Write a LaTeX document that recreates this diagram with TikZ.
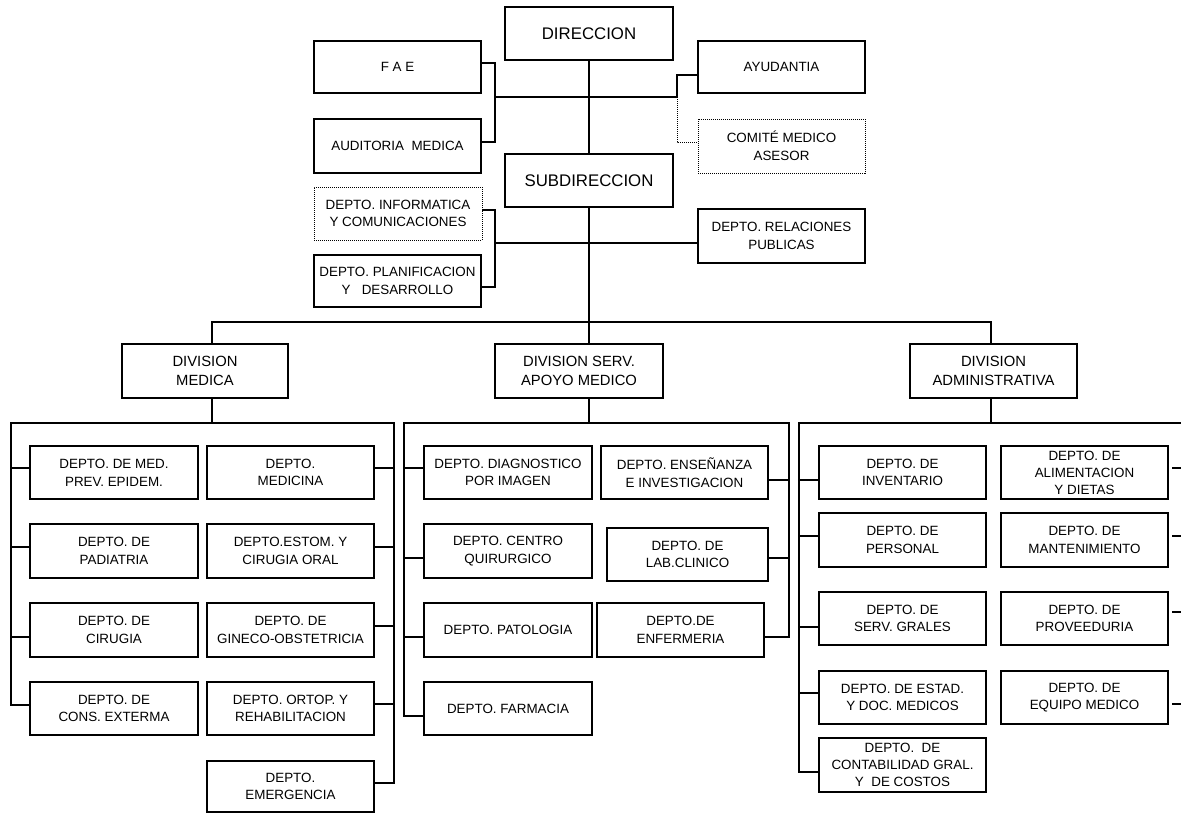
\documentclass[tikz,border=0pt]{standalone}
\usepackage{fontspec}
\setmainfont{Liberation Sans}

% \orgbox[style]{name}{x1}{y1}{x2}{y2}{text}: a box given by its corners
\newcommand{\orgbox}[7][]{%
  \pgfmathsetmacro{\orgW}{#5-#3}\pgfmathsetmacro{\orgH}{#6-#4}%
  \pgfmathsetmacro{\orgX}{(#3+#5)/2}\pgfmathsetmacro{\orgY}{(#4+#6)/2}%
  \node[box,#1,minimum width=\orgW pt,minimum height=\orgH pt] (#2) at (\orgX,\orgY) {#7};}
% stubs from a box side to a bracket line at a given height
\newcommand{\lstub}[3]{\draw[link] (#1.west |- 0,#3) -- (#2 |- 0,#3);}
\newcommand{\rstub}[3]{\draw[link] (#1.east |- 0,#3) -- (#2 |- 0,#3);}

\begin{document}
\begin{tikzpicture}[x=1pt,y=-1pt,
  box/.style={draw,line width=1.2pt,inner sep=1pt,align=center,
    font=\fontsize{13.4}{17.7}\selectfont},
  dotbox/.style={line width=0.8pt,dash pattern=on 1pt off 1pt},
  big/.style={font=\fontsize{16.8}{20}\selectfont},
  divn/.style={font=\fontsize{14.8}{19}\selectfont},
  tight/.style={font=\fontsize{13.4}{17}\selectfont},
  link/.style={line width=1.2pt},
  dotlink/.style={line width=0.8pt,dash pattern=on 1pt off 1pt}]

\useasboundingbox (0,0) rectangle (1181,814);

% ---- top management ----
\orgbox[big]{dir}{505}{7}{673}{60}{DIRECCION}
\orgbox{fae}{314}{41}{481}{93}{F A E}
\orgbox{aud}{314}{119}{481}{173}{AUDITORIA\ \ MEDICA}
\orgbox{ayu}{698}{41}{865}{93}{AYUDANTIA}
\orgbox[dotbox]{com}{698}{119}{865}{173}{COMITÉ MEDICO\\ASESOR}
\orgbox[big]{sub}{505}{154}{673}{207}{SUBDIRECCION}
\orgbox[dotbox]{inf}{314}{187}{482}{240}{DEPTO. INFORMATICA\\Y COMUNICACIONES}
\orgbox{pla}{314}{255}{481}{307}{DEPTO. PLANIFICACION\\Y\ \ \ DESARROLLO}
\orgbox{rel}{698}{209}{865}{263}{DEPTO. RELACIONES\\PUBLICAS}

\coordinate (jl) at (495,97);
\coordinate (jr) at (677,97);
\coordinate (kl) at (495,243);

\draw[link] (dir.south) -- (sub.north);
\draw[link] ([yshift=4pt]fae.east) -| (jl);
\draw[link] ([yshift=4pt]aud.east) -| (jl);
\draw[link] (jl) -- (jr);
\draw[link] (jr) |- ([yshift=-8pt]ayu.west);
\draw[dotlink] (jr) |- ([yshift=4pt]com.west);

\draw[link] ([yshift=3.5pt]inf.east) -| (kl);
\draw[link] ([yshift=-6pt]pla.east) -| (kl);
\draw[link] (kl) -- ([yshift=-7pt]rel.west);

% ---- divisions ----
\orgbox[divn]{dm}{122}{344}{288}{398}{DIVISION\\MEDICA}
\orgbox[divn]{ds}{495}{344}{663}{398}{DIVISION SERV.\\APOYO MEDICO}
\orgbox[divn]{da}{910}{344}{1077}{398}{DIVISION\\ADMINISTRATIVA}

\coordinate (bus) at (589,322);
\draw[link] (sub.south) -- (sub.south |- ds.north);
\draw[link] ([xshift=7pt]dm.north) |- (bus) -| ([xshift=-2.5pt]da.north);

% ---- medical division ----
\orgbox{m1}{30}{446}{198}{499}{DEPTO. DE MED.\\PREV. EPIDEM.}
\orgbox{m2}{207}{446}{374}{499}{DEPTO.\\MEDICINA}
\orgbox{m3}{30}{524}{198}{578}{DEPTO. DE\\PADIATRIA}
\orgbox{m4}{207}{524}{374}{578}{DEPTO.ESTOM. Y\\CIRUGIA ORAL}
\orgbox{m5}{30}{603}{198}{657}{DEPTO. DE\\CIRUGIA}
\orgbox{m6}{207}{603}{374}{657}{DEPTO. DE\\GINECO-OBSTETRICIA}
\orgbox{m7}{30}{682}{198}{735}{DEPTO. DE\\CONS. EXTERMA}
\orgbox{m8}{207}{682}{374}{735}{DEPTO. ORTOP. Y\\REHABILITACION}
\orgbox{m9}{207}{761}{374}{812}{DEPTO.\\EMERGENCIA}

\coordinate (mL) at (11,423);
\coordinate (mR) at (394,423);
\draw[link] ([xshift=7pt]dm.south) -- ([xshift=7pt]dm.south |- mL);
\draw[link] (m7.west |- 0,705) -| (mL) -- (mR) |- (m9.east |- 0,783);
\lstub{m1}{mL}{468}
\lstub{m3}{mL}{547}
\lstub{m5}{mL}{637}
\rstub{m2}{mR}{468}
\rstub{m4}{mR}{547}
\rstub{m6}{mR}{626}
\rstub{m8}{mR}{704}

% ---- medical support division ----
\orgbox{s1}{424}{446}{592}{499}{DEPTO. DIAGNOSTICO\\POR IMAGEN}
\orgbox{s2}{601}{446}{768}{499}{DEPTO. ENSEÑANZA\\E INVESTIGACION}
\orgbox{s3}{424}{524}{592}{578}{DEPTO. CENTRO\\QUIRURGICO}
\orgbox{s4}{607}{528}{768}{581}{DEPTO. DE\\LAB.CLINICO}
\orgbox{s5}{424}{603}{592}{657}{DEPTO. PATOLOGIA}
\orgbox{s6}{597}{603}{764}{657}{DEPTO.DE\\ENFERMERIA}
\orgbox{s7}{424}{682}{592}{735}{DEPTO. FARMACIA}

\coordinate (sL) at (404,423);
\coordinate (sR) at (789,423);
\draw[link] (sub.south |- ds.south) -- (sub.south |- sL);
\draw[link] (s7.west |- 0,716) -| (sL) -- (sR) |- (s6.east |- 0,637);
\lstub{s1}{sL}{468}
\lstub{s3}{sL}{558}
\lstub{s5}{sL}{637}
\rstub{s2}{sR}{480}
\rstub{s4}{sR}{558}

% ---- administrative division ----
\orgbox{a1}{819}{446}{986}{499}{DEPTO. DE\\INVENTARIO}
\orgbox[tight]{a2}{1001}{446}{1168}{499}{DEPTO. DE\\ALIMENTACION\\Y DIETAS}
\orgbox{a3}{819}{513}{986}{567}{DEPTO. DE\\PERSONAL}
\orgbox{a4}{1001}{513}{1168}{567}{DEPTO. DE\\MANTENIMIENTO}
\orgbox{a5}{819}{592}{986}{645}{DEPTO. DE\\SERV. GRALES}
\orgbox{a6}{1001}{592}{1168}{645}{DEPTO. DE\\PROVEEDURIA}
\orgbox{a7}{819}{671}{986}{724}{DEPTO. DE ESTAD.\\Y DOC. MEDICOS}
\orgbox{a8}{1001}{671}{1168}{724}{DEPTO. DE\\EQUIPO MEDICO}
\orgbox[tight]{a9}{819}{738}{986}{792}{DEPTO.\ \ DE\\CONTABILIDAD GRAL.\\Y\ \ DE COSTOS}

\coordinate (aL) at (799,423);
\coordinate (aR) at (1181,423);
\draw[link] ([xshift=-2.5pt]da.south) -- ([xshift=-2.5pt]da.south |- aL);
\draw[link] (a9.west |- 0,772) -| (aL) -- (aR);
\lstub{a1}{aL}{480}
\lstub{a3}{aL}{536}
\lstub{a5}{aL}{627}
\lstub{a7}{aL}{693}
\coordinate (a2s) at (1172,468);
\coordinate (a4s) at (1172,536);
\coordinate (a6s) at (1172,612);
\coordinate (a8s) at (1172,704);
\draw[link] (a2s) -- (aR |- a2s);
\draw[link] (a4s) -- (aR |- a4s);
\draw[link] (a6s) -- (aR |- a6s);
\draw[link] (a8s) -- (aR |- a8s);

\end{tikzpicture}
\end{document}
